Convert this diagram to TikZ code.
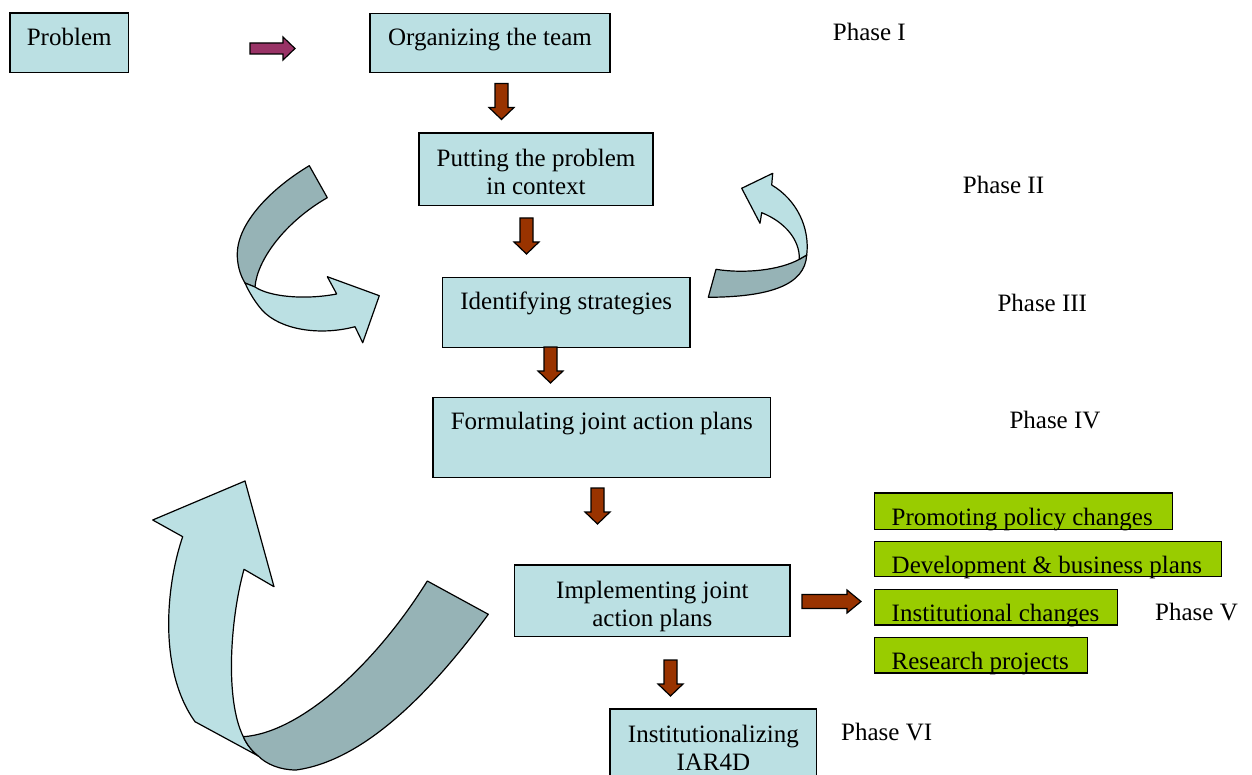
\documentclass[tikz,border=0pt]{standalone}
\usepackage{fontspec}
\setmainfont{Liberation Serif}
\definecolor{boxfill}{RGB}{187,224,227}
\definecolor{ribbondark}{RGB}{150,179,182}
\definecolor{leafgreen}{RGB}{153,204,0}
\definecolor{rust}{RGB}{153,51,0}
\definecolor{plum}{RGB}{153,51,102}
% two centred lines whose baseline is the first line
\newcommand\twoline[2]{\vtop{\halign{\hfil##\hfil\cr#1\cr#2\cr}}}
% left-padded line filling a box of the given width
\newcommand\padleft[2]{\hbox to #1pt{\hskip17pt #2\hss}}

\begin{document}
\begin{tikzpicture}[x=1pt,y=-1pt,
  every node/.style={font=\fontsize{25}{28}\selectfont, inner sep=0pt},
  stage/.style={draw=black, line width=1.4pt, fill=boxfill, anchor=north west},
  outcome/.style={draw=black, line width=1.4pt, fill=leafgreen, anchor=north west},
  phase/.style={anchor=base west},
  blk/.style={draw=black, line width=1.2pt, fill=rust},
  ribbon/.style={draw=black, line width=1.2pt, line join=round},
  downblk/.pic={\path[blk] (-6.5,0) -- (6.5,0) -- (6.5,24) -- (12.5,24) -- (0,36) -- (-12.5,24) -- (-6.5,24) -- cycle;}
]
\useasboundingbox (0,0) rectangle (1252,775);
\clip (0,0) rectangle (1252,775);

% ---- curved ribbon arrows ----
% upper left loop
\path[ribbon, fill=ribbondark]
  (309.3,165.7) .. controls (272,188) and (238,222) .. (237.3,253.3)
  .. controls (237,264) and (240,275) .. (245,283) -- (255,287)
  .. controls (257,260) and (285,222) .. (327.3,197.7) -- cycle;
\path[ribbon, fill=boxfill]
  (255,287) .. controls (270,297) and (305,300) .. (336.7,294)
  -- (327.3,276.7) -- (379.3,295.7) -- (362.7,342.7) -- (355,326.7)
  .. controls (320,336) and (280,330) .. (262,310)
  .. controls (255,302) and (249,292) .. (245,283) -- cycle;

% right loop
\path[ribbon, fill=ribbondark]
  (716,269.3) .. controls (745,274) and (780,270) .. (799.3,259.3)
  -- (806.7,255) .. controls (805,285) and (770,297) .. (708.3,297.3) -- cycle;
\path[ribbon, fill=boxfill]
  (806.7,255) .. controls (810,228) and (797,200) .. (771.7,185)
  -- (772.7,173.3) -- (741.7,188.3) -- (760,223.3) -- (761.7,212.7)
  .. controls (785,222) and (800,240) .. (799.3,259.3) -- cycle;

% large lower loop
\path[ribbon, fill=boxfill]
  (182.7,536.7) -- (152.7,520) -- (245,481) -- (274,586.7) -- (244,569.3)
  .. controls (230,620) and (225,700) .. (243.3,736.7)
  .. controls (247,745) and (252,751) .. (258.3,756)
  -- (195,721.7)
  .. controls (158,670) and (166,585) .. (182.7,536.7) -- cycle;
\path[ribbon, fill=ribbondark]
  (243.3,736.7) .. controls (300,733) and (375,665) .. (427.3,581)
  -- (488.3,614.3) .. controls (440,680) and (370,760) .. (296,770)
  .. controls (280,770) and (266,764) .. (258.3,756)
  .. controls (252,751) and (247,745) .. (243.3,736.7) -- cycle;

% ---- process boxes ----
\node[stage, minimum width=118.4pt, text height=32.7pt, text depth=26.7pt] (problem) at (9.3,12.3) {Problem};
\node[stage, minimum width=240pt, text height=32.3pt, text depth=26.7pt] (team) at (369.3,12.7) {Organizing the team};
\node[stage, minimum width=234pt, text height=33.4pt, text depth=39.3pt] (context) at (418.3,132.3) {\twoline{Putting the problem}{in context}};
\node[stage, minimum width=247.6pt, text height=32.3pt, text depth=37.7pt] (strategies) at (441.7,276.7) {Identifying strategies};
\node[stage, minimum width=337.7pt, text height=32.3pt, text depth=47.7pt] (formulate) at (432.3,396.7) {Formulating joint action plans};
\node[stage, minimum width=275.3pt, text height=33.4pt, text depth=38.3pt] (implement) at (514,564.3) {\twoline{Implementing joint}{action plans}};
\node[stage, minimum width=206.7pt, text height=33.4pt, text depth=58pt] (institution) at (609.3,708.3) {\twoline{Institutionalizing}{IAR4D}};

% ---- outcome boxes ----
\node[outcome, text height=32.7pt, text depth=3.6pt] (policy) at (874,492.3) {\padleft{297.7}{Promoting policy changes}};
\node[outcome, text height=31.3pt, text depth=3.4pt] (business) at (874,541) {\padleft{347}{Development \& business plans}};
\node[outcome, text height=31.3pt, text depth=4pt] (instchg) at (874,589) {\padleft{242.7}{Institutional changes}};
\node[outcome, text height=31.6pt, text depth=4pt] (research) at (874,636.7) {\padleft{212.7}{Research projects}};

% ---- phase labels ----
\node[phase] (ph1) at (832.7,41) {Phase I};
\node[phase] (ph2) at (962.7,194) {Phase II};
\node[phase] (ph3) at (997.3,311.7) {Phase III};
\node[phase] (ph4) at (1009.3,428.3) {Phase IV};
\node[phase] (ph5) at (1155,620.3) {Phase V};
\node[phase] (ph6) at (841,740.7) {Phase VI};

% ---- block arrows ----
\path[blk, fill=plum] (250,43) -- (283,43) -- (283,37) -- (295,48.5) -- (283,60) -- (283,54) -- (250,54) -- cycle;
\pic at (501.5,83.5) {downblk};
\pic at (526.5,218) {downblk};
\pic at (550.5,347) {downblk};
\pic at (597.5,488) {downblk};
\pic at (670.5,660) {downblk};
\path[blk] (802,594.5) -- (847,594.5) -- (847,590) -- (861,601.5) -- (847,613) -- (847,608.5) -- (802,608.5) -- cycle;
\end{tikzpicture}
\end{document}
